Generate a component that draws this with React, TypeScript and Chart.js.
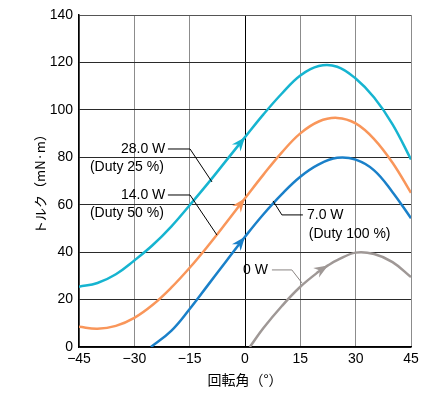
import React, { useEffect, useRef } from "react";
import { Chart, registerables } from "chart.js";

Chart.register(...registerables);

// ---- Data ----
const angleFull = [-45, -40, -35, -30, -25, -20, -15, -10, -5, 0, 5, 10, 15, 20, 25, 30, 35, 40, 45];
const torque28W = [25.4, 27.0, 30.7, 36.5, 43.0, 50.8, 59.8, 69.1, 78.8, 88.5, 98.1, 106.9, 114.5, 118.5, 118.2, 113.2, 105.2, 93.9, 79.1];
const torque14W = [8.5, 7.7, 8.9, 12.3, 17.8, 25.0, 33.4, 42.7, 52.6, 62.7, 72.7, 82.1, 90.1, 95.1, 96.6, 94.3, 87.7, 77.7, 65.0];
const angle7W = [-25.5, -20, -15, -10, -5, 0, 5, 10, 15, 20, 25, 30, 35, 40, 45];
const torque7W = [0, 6.8, 16.0, 26.2, 36.4, 46.5, 56.0, 64.5, 71.8, 77.0, 79.8, 79.0, 74.5, 65.3, 54.3];
const angle0W = [1.3, 5, 10, 15, 20, 22.5, 25, 30, 35, 40, 45];
const torque0W = [0, 8.0, 17.3, 25.4, 31.8, 34.4, 36.6, 39.8, 39.2, 35.8, 29.5];

const xTicks = [-45, -30, -15, 0, 15, 30, 45];
const yTicks = [0, 20, 40, 60, 80, 100, 120, 140];

const seriesNames = ["28.0 W", "14.0 W", "7.0 W", "0 W"];
const dutyNames = ["(Duty 25 %)", "(Duty 50 %)", "(Duty 100 %)"];
const xTitle = "回転角（°）";
const yTitle = "トルク（mN·m）";

// index of the data point where each series' arrowhead sits
const arrowIndex = [9, 9, 5, 5];

// ---- Styles ----
const CYAN = "#16b4d0";
const ORANGE = "#f9965a";
const BLUE = "#1a80c9";
const GRAY = "#9f9896";
const LABEL_FONT = "'Liberation Sans', Arial, sans-serif";
const CJK_FONT = "'Noto Sans CJK JP', sans-serif";

// annotation placements in data coordinates
const annotations = [
  { text: seriesNames[0], x: -21.6, y: 83.5, align: "right", color: "#000" },
  { text: dutyNames[0], x: -22, y: 75.9, align: "right", color: "#000" },
  { text: seriesNames[1], x: -21.6, y: 64.1, align: "right", color: "#000" },
  { text: dutyNames[1], x: -22, y: 56.5, align: "right", color: "#000" },
  { text: seriesNames[2], x: 16.8, y: 55.7, align: "left", color: "#000" },
  { text: dutyNames[2], x: 17.3, y: 47.7, align: "left", color: "#000" },
  { text: seriesNames[3], x: 6.2, y: 32.5, align: "right", color: "#000" },
];
const leaders = [
  { color: "#000", pts: [[-20.9, 83.5], [-14.9, 83.5], [-8.95, 69.6]] },
  { color: "#000", pts: [[-20.9, 64.1], [-14.9, 64.1], [-7.6, 47.2]] },
  { color: "#000", pts: [[7.6, 61.6], [10.0, 55.7], [15.7, 55.7]] },
  { color: "#8a8482", pts: [[7.3, 32.5], [12.7, 32.5], [15.45, 27]] },
];

const fmtTick = (v: number) => (v < 0 ? "\u2212" + Math.abs(v) : String(v));

const arrowPlugin = {
  id: "arrowheads",
  afterDatasetsDraw(chart: any) {
    const ctx = chart.ctx;
    chart.data.datasets.forEach((ds: any, di: number) => {
      const meta = chart.getDatasetMeta(di);
      const idx = arrowIndex[di];
      const p = meta.data[idx];
      if (!p) return;
      let bx = p.cp1x, by = p.cp1y;
      if (bx === undefined || (bx === p.x && by === p.y)) {
        const q = meta.data[idx - 1];
        bx = q.x; by = q.y;
      }
      let dx = p.x - bx, dy = p.y - by;
      const len = Math.hypot(dx, dy) || 1;
      dx /= len; dy /= len;
      const nx = -dy, ny = dx;
      const L = 14, W = 5.5, N = 4.5;
      ctx.save();
      ctx.fillStyle = ds.borderColor;
      ctx.beginPath();
      ctx.moveTo(p.x, p.y);
      ctx.lineTo(p.x - dx * L + nx * W, p.y - dy * L + ny * W);
      ctx.lineTo(p.x - dx * (L - N), p.y - dy * (L - N));
      ctx.lineTo(p.x - dx * L - nx * W, p.y - dy * L - ny * W);
      ctx.closePath();
      ctx.fill();
      ctx.restore();
    });
  },
};

const annotationPlugin = {
  id: "annotations",
  afterDraw(chart: any) {
    const ctx = chart.ctx;
    const xs = chart.scales.x, ys = chart.scales.y;
    ctx.save();
    leaders.forEach((l) => {
      ctx.strokeStyle = l.color;
      ctx.lineWidth = 1;
      ctx.beginPath();
      l.pts.forEach(([x, y], i) => {
        const px = xs.getPixelForValue(x), py = ys.getPixelForValue(y);
        if (i === 0) ctx.moveTo(px, py); else ctx.lineTo(px, py);
      });
      ctx.stroke();
    });
    ctx.font = `14px ${LABEL_FONT}`;
    ctx.textBaseline = "middle";
    annotations.forEach((a) => {
      ctx.fillStyle = a.color;
      ctx.textAlign = a.align as CanvasTextAlign;
      ctx.fillText(a.text, xs.getPixelForValue(a.x), ys.getPixelForValue(a.y));
    });
    // axis titles
    ctx.fillStyle = "#000";
    ctx.textAlign = "center";
    ctx.font = `14px ${CJK_FONT}`;
    ctx.fillText(xTitle, (chart.chartArea.left + chart.chartArea.right) / 2, 380);
    ctx.font = `13px ${CJK_FONT}`;
    ctx.translate(40, 181);
    ctx.rotate(-Math.PI / 2);
    ctx.fillText(yTitle, 0, 0);
    ctx.restore();
  },
};

export default function App() {
  const ref = useRef<HTMLCanvasElement>(null);
  useEffect(() => {
    if (!ref.current) return;
    const mk = (xs: number[], ys: number[]) => xs.map((x, i) => ({ x, y: ys[i] }));
    const line = (label: string, data: any, color: string) => ({
      label,
      data,
      borderColor: color,
      backgroundColor: color,
      borderWidth: 2.5,
      pointRadius: 0,
      tension: 0.4,
      fill: false,
    });
    const chart = new Chart(ref.current, {
      type: "line",
      data: {
        datasets: [
          line(seriesNames[0], mk(angleFull, torque28W), CYAN),
          line(seriesNames[1], mk(angleFull, torque14W), ORANGE),
          line(seriesNames[2], mk(angle7W, torque7W), BLUE),
          line(seriesNames[3], mk(angle0W, torque0W), GRAY),
        ],
      },
      options: {
        responsive: false,
        animation: false,
        devicePixelRatio: 1,
        layout: { padding: { left: 0, top: 15, right: 23, bottom: 0 } },
        plugins: { legend: { display: false }, tooltip: { enabled: false } },
        scales: {
          x: {
            type: "linear",
            min: -45,
            max: 45,
            afterBuildTicks: (s: any) => {
              s.ticks = xTicks.map((v) => ({ value: v }));
            },
            afterFit: (s: any) => {
              s.height = 51;
            },
            ticks: {
              callback: (v: any) => fmtTick(Number(v)),
              color: "#000",
              padding: 4,
              maxRotation: 0,
              font: { family: LABEL_FONT, size: 14 },
            },
            grid: {
              drawTicks: false,
              lineWidth: 1,
              color: (c: any) => (c.tick && c.tick.value === 0 ? "#000" : "#8c8c8c"),
            },
            border: { color: "#000", width: 1.5 },
          },
          y: {
            type: "linear",
            min: 0,
            max: 140,
            afterBuildTicks: (s: any) => {
              s.ticks = yTicks.map((v) => ({ value: v }));
            },
            afterFit: (s: any) => {
              s.width = 79;
            },
            ticks: {
              color: "#000",
              padding: 6,
              font: { family: LABEL_FONT, size: 14 },
            },
            grid: {
              drawTicks: false,
              lineWidth: 1,
              color: (c: any) => (c.tick && c.tick.value === 140 ? "#555" : "#2a2a2a"),
            },
            border: { color: "#000", width: 1.5 },
          },
        },
      } as any,
      plugins: [arrowPlugin, annotationPlugin],
    });
    return () => chart.destroy();
  }, []);
  return (
    <canvas
      ref={ref}
      width={434}
      height={398}
      style={{ position: "absolute", left: 0, top: 0, background: "#fff" }}
    />
  );
}
